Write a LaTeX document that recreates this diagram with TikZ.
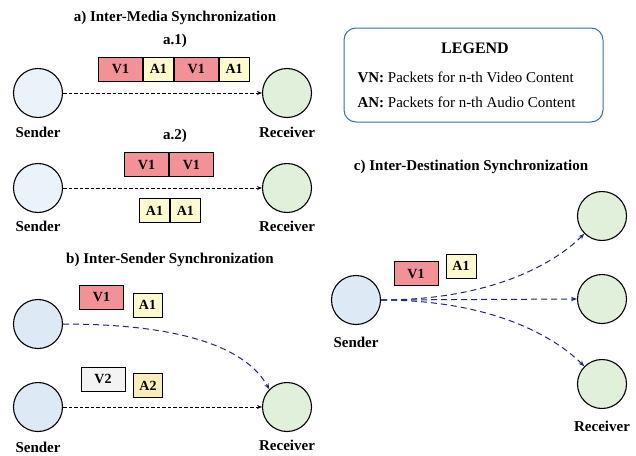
\documentclass[tikz,border=0pt]{standalone}
\usepackage{fontspec}
\setmainfont{Liberation Serif}
\usetikzlibrary{positioning,arrows.meta}
\definecolor{sendlight}{RGB}{235,243,250}
\definecolor{sendblue}{RGB}{222,233,246}
\definecolor{recvgreen}{RGB}{224,240,218}
\definecolor{vidred}{RGB}{242,146,151}
\definecolor{audyellow}{RGB}{253,250,205}
\definecolor{audgold}{RGB}{250,236,187}
\definecolor{vidgray}{RGB}{243,243,243}
\definecolor{legendblue}{RGB}{60,110,160}
\definecolor{flownavy}{RGB}{30,40,120}
\begin{document}
\begin{tikzpicture}[
        x=1pt, y=-1pt,
        node distance=0pt,
        sender/.style={draw, circle, minimum size=49pt, line width=1.1pt, fill=sendblue},
        receiver/.style={draw, circle, minimum size=49pt, line width=1.1pt, fill=recvgreen},
        pkt/.style={draw, line width=0.9pt, minimum height=24pt, inner sep=0pt, font=\fontsize{14}{14}\selectfont\bfseries},
        vpkt/.style={pkt, fill=vidred, minimum width=44pt},
        apkt/.style={pkt, fill=audyellow, minimum width=30pt},
        title/.style={font=\fontsize{15}{17}\selectfont\bfseries},
        tag/.style={font=\fontsize{15}{17}\selectfont\bfseries, inner sep=1pt},
        flow/.style={draw, dashed, dash pattern=on 3.5pt off 2pt, line width=0.8pt, -{Stealth[length=5pt,width=4pt]}},
        bflow/.style={draw, flownavy, dash pattern=on 6pt off 4pt, line width=1pt, -{Stealth[length=6pt,width=4.5pt]}},
    ]
    \useasboundingbox (0,0) rectangle (636,455);

    % a) inter-media
    \node[title](ta) at (175,18) {a) Inter-Media Synchronization};
    \node[title](ta1) at (175,41) {a.1)};
    \node[vpkt, anchor=west](a1v1) at (98,69) {V1};
    \node[apkt, right=of a1v1](a1a1) {A1};
    \node[vpkt, right=of a1a1](a1v2) {V1};
    \node[apkt, right=of a1v2](a1a2) {A1};
    \node[sender, fill=sendlight](sa1) at (38,93) {};
    \node[receiver](ra1) at (287,93) {};
    \node[tag, below=8pt of sa1] {Sender};
    \node[tag, below=8pt of ra1] {Receiver};
    \draw[flow] (sa1) -- (ra1);

    \node[title](ta2) at (175,136) {a.2)};
    \node[vpkt, anchor=west](a2v1) at (124,164.5) {V1};
    \node[vpkt, right=of a2v1](a2v2) {V1};
    \node[apkt, anchor=west](a2a1) at (139,210.5) {A1};
    \node[apkt, right=of a2a1](a2a2) {A1};
    \node[sender, fill=sendlight](sa2) at (38,188) {};
    \node[receiver](ra2) at (287,188) {};
    \node[tag, below=7pt of sa2] {Sender};
    \node[tag, below=7pt of ra2] {Receiver};
    \draw[flow] (sa2) -- (ra2);

    % b) inter-sender
    \node[title](tb) at (170,260) {b) Inter-Sender Synchronization};
    \node[vpkt](bv1) at (101.5,297) {V1};
    \node[apkt, minimum width=29pt](ba1) at (147.5,305) {A1};
    \node[vpkt, fill=vidgray](bv2) at (103,379) {V2};
    \node[apkt, minimum width=29pt, fill=audgold](ba2) at (148,385.5) {A2};
    \node[sender](sb1) at (38,324) {};
    \node[sender](sb2) at (38,407) {};
    \node[receiver](rb) at (287,407) {};
    \node[tag, below=9pt of sb2] {Sender};
    \node[tag, below=7pt of rb] {Receiver};
    \draw[bflow] (sb1.east) .. controls +(110,0) and +(-25,-45) .. (rb.north west);
    \draw[flow] (sb2) -- (rb);

    % legend
    \node[draw=legendblue, line width=1pt, rounded corners=12pt, minimum width=259pt, minimum height=94pt](lg) at (473.5,75) {};
    \node[font=\fontsize{16}{18}\selectfont\bfseries](lgt) at (475,48) {LEGEND};
    \node[anchor=west, font=\fontsize{15}{17}\selectfont](lgv) at (354,77) {\textbf{VN:} Packets for n-th Video Content};
    \node[anchor=west, font=\fontsize{15}{17}\selectfont](lga) at (354,102) {\textbf{AN:} Packets for n-th Audio Content};

    % c) inter-destination
    \node[title](tc) at (471,167) {c) Inter-Destination Synchronization};
    \node[vpkt](cv1) at (416,273.5) {V1};
    \node[apkt](ca1) at (461,266) {A1};
    \node[sender](sc) at (356,300) {};
    \node[receiver](rc1) at (602,216) {};
    \node[receiver](rc2) at (602,299) {};
    \node[receiver](rc3) at (602,384) {};
    \node[tag, below=11pt of sc] {Sender};
    \node[tag, below=11pt of rc3] {Receiver};
    \draw[bflow] (sc.east) .. controls +(110,0) and +(-30,30) .. (rc1.south west);
    \draw[bflow] (sc.east) -- (rc2.west);
    \draw[bflow] (sc.east) .. controls +(110,0) and +(-30,-30) .. (rc3.north west);
\end{tikzpicture}
\end{document}
